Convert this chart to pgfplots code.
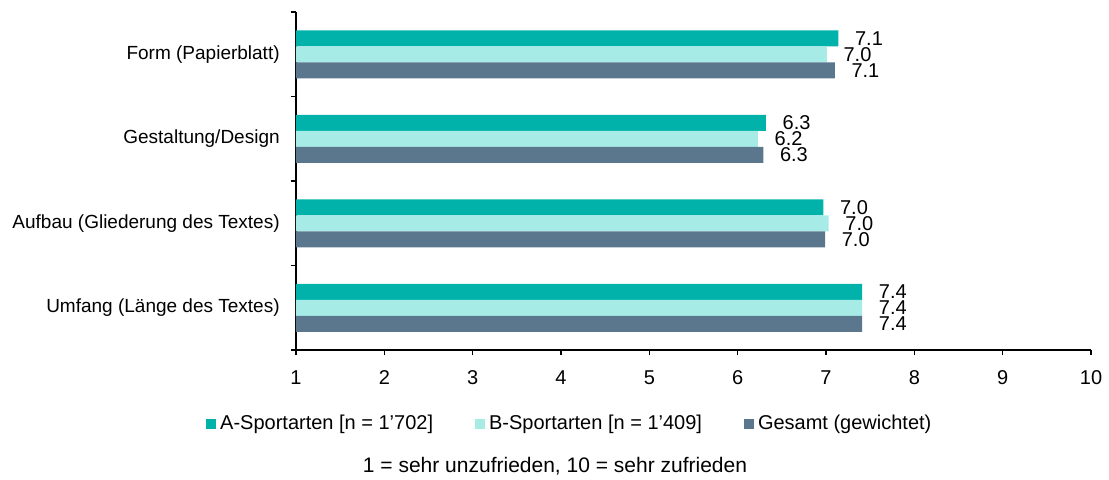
\documentclass[border=0pt]{standalone}
\usepackage{pgfplots}
\pgfplotsset{compat=1.18}
\usepackage{fontspec}
\setmainfont{Liberation Sans}
\definecolor{cA}{HTML}{00B2A9}
\definecolor{cB}{HTML}{A6EBE6}
\definecolor{cG}{HTML}{5A778E}
\begin{document}
\fontsize{9.5}{11}\selectfont
\begin{tikzpicture}
\useasboundingbox (0,0) rectangle (554.5pt,239.5pt);
\begin{axis}[
  name=ax,
  at={(148pt,64.5pt)}, anchor=south west,
  scale only axis, width=397.5pt, height=169pt,
  xbar, bar width=8pt,
  xmin=1, xmax=10, ymin=-0.5, ymax=3.5, y dir=reverse,
  axis x line*=bottom, axis y line*=left,
  axis line style={black, line width=0.6pt},
  xtick={1,...,10},
  ytick={0,1,2,3},
  yticklabels={Form (Papierblatt),Gestaltung/Design,Aufbau (Gliederung des Textes),Umfang (Länge des Textes)},
  minor ytick={-0.5,0.5,1.5,2.5,3.5},
  major y tick style={draw=none},
  minor y tick style={draw=black, line width=0.6pt},
  x tick style={black, line width=0.6pt},
  tick align=outside, major tick length=2.5pt, minor tick length=2.5pt,
  yticklabel style={xshift=-2.3pt, font=\fontsize{9.5}{11}\selectfont},
  xticklabel style={yshift=-4.5pt, font=\fontsize{10}{12}\selectfont},
  /pgf/number format/assume math mode=true,
  nodes near coords,
  nodes near coords style={anchor=west, xshift=5pt, inner ysep=0pt, font=\fontsize{10}{10}\selectfont,
    /pgf/number format/.cd, fixed, fixed zerofill, precision=1, assume math mode=true},
  legend style={at={(-0.121,-0.219)}, anchor=west, draw=none, fill=none,
    legend columns=3, font=\fontsize{10}{12}\selectfont,
    /tikz/every even column/.append style={column sep=19pt}},
  legend image code/.code={\fill[#1] (0pt,-2.5pt) rectangle (5pt,2.5pt);},
  clip=true,
]
\addplot[fill=cA, draw=none, bar shift=8pt] coordinates {(7.14,0) (6.32,1) (6.97,2) (7.41,3)};
\addplot[fill=cB, draw=none, bar shift=0pt] coordinates {(7.01,0) (6.23,1) (7.03,2) (7.41,3)};
\addplot[fill=cG, draw=none, bar shift=-8pt] coordinates {(7.10,0) (6.29,1) (6.99,2) (7.41,3)};
\legend{A-Sportarten [n = 1'702],B-Sportarten [n = 1'409],Gesamt (gewichtet)}
\end{axis}
\node[font=\fontsize{10.5}{12}\selectfont] at ([xshift=129.5pt, yshift=-58pt]ax.south west) {1 = sehr unzufrieden, 10 = sehr zufrieden};
\end{tikzpicture}
\end{document}
